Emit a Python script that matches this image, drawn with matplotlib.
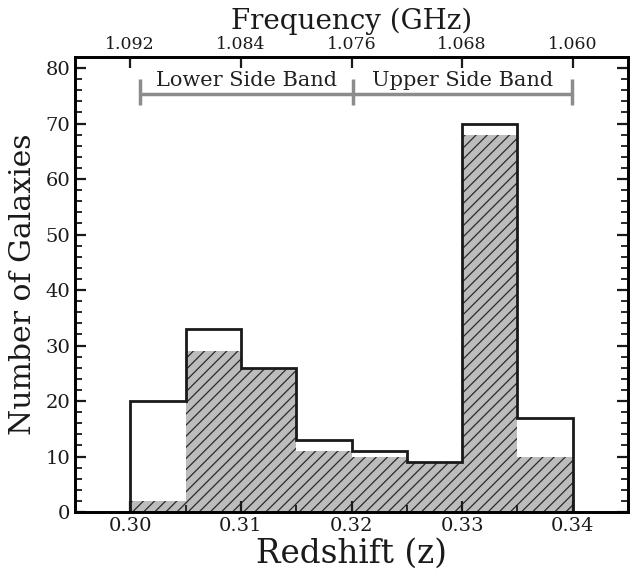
import matplotlib
matplotlib.use("Agg")
import matplotlib.pyplot as plt
import numpy as np
from matplotlib.ticker import MultipleLocator

bin_edges = [0.300, 0.305, 0.310, 0.315, 0.320, 0.325, 0.330, 0.335, 0.340]
all_counts = [20, 33, 26, 13, 11, 9, 70, 17]
hatched_counts = [2, 29, 26, 11, 10, 9, 68, 10]
freq_tick_z = [0.300, 0.310, 0.320, 0.330, 0.340]
freq_tick_labels = ["1.092", "1.084", "1.076", "1.068", "1.060"]
band_edges = [0.3009, 0.3201, 0.3399]
band_labels = ["Lower Side Band", "Upper Side Band"]

plt.rcParams['font.family'] = ['DejaVu Serif']
plt.rcParams['hatch.linewidth'] = 0.9

fig = plt.figure(figsize=(6.30, 5.79), dpi=100)
ax = fig.add_axes([0.119, 0.1157, 0.878, 0.786])

ax.stairs(hatched_counts, bin_edges, fill=True, facecolor='#bcbcbc',
          edgecolor='#2a2a2a', hatch='///', linewidth=0)
ax.stairs(all_counts, bin_edges, fill=False, baseline=0, edgecolor='#1a1a1a', linewidth=2)

ax.set_xlim(0.295, 0.345)
ax.set_ylim(0, 82)

# band brackets
gray = '#8c8c8c'
yb = 75.4
ax.plot([band_edges[0], band_edges[2]], [yb, yb], color=gray, lw=2.5, solid_capstyle='butt')
for xe in band_edges:
    ax.plot([xe, xe], [73.3, 78.1], color=gray, lw=2.5, solid_capstyle='butt')
for i, lab in enumerate(band_labels):
    xc = (band_edges[i] + band_edges[i + 1]) / 2
    ax.text(xc, 76.1, lab, ha='center', va='bottom', fontsize=15, color='#222222')

ax.xaxis.set_minor_locator(MultipleLocator(0.005))
ax.yaxis.set_major_locator(MultipleLocator(10))
ax.yaxis.set_minor_locator(MultipleLocator(2))
ax.set_xticks(np.round(np.arange(0.30, 0.341, 0.01), 2))
ax.set_xticklabels(["0.30", "0.31", "0.32", "0.33", "0.34"])
ax.tick_params(which='both', direction='in', top=False, right=True, labelsize=14, colors='#1a1a1a')
ax.tick_params(which='major', length=8, width=1.6)
ax.tick_params(which='minor', length=5, width=1.3)
for s in ax.spines.values():
    s.set_linewidth(2)
    s.set_color('#1a1a1a')

ax.set_xlabel("Redshift (z)", fontsize=23.5, color='#1a1a1a', labelpad=2)
ax.set_ylabel("Number of Galaxies", fontsize=21.5, color='#1a1a1a', labelpad=6)

ax2 = ax.twiny()
ax2.set_xlim(ax.get_xlim())
ax2.set_xticks(freq_tick_z)
ax2.set_xticklabels(freq_tick_labels)
ax2.tick_params(which='major', direction='in', length=8, width=1.6, labelsize=12.5, colors='#1a1a1a', pad=3)
ax2.set_xlabel("Frequency (GHz)", fontsize=20, color='#1a1a1a', labelpad=5)
for s in ax2.spines.values():
    s.set_linewidth(2)

fig.savefig("out.png", dpi=100)
